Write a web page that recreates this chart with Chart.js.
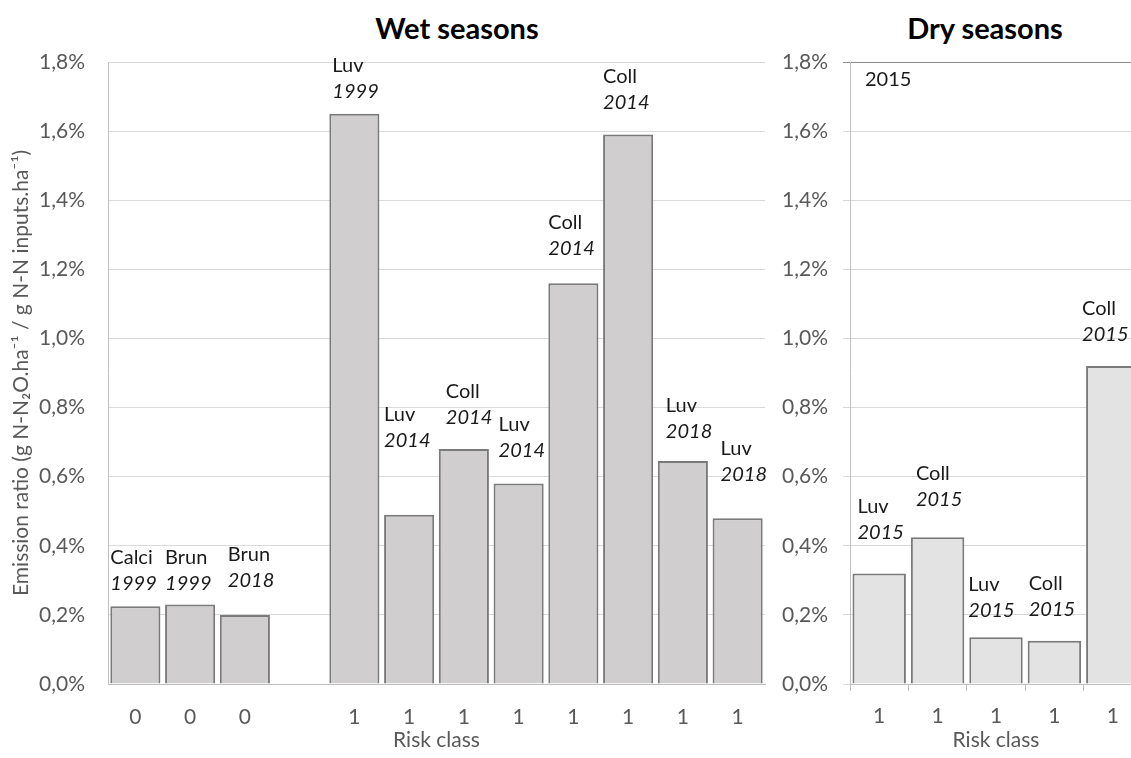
<!DOCTYPE html>
<html>
<head>
<meta charset="utf-8">
<title>Emission ratio by risk class</title>
<script src="https://cdn.jsdelivr.net/npm/chart.js@4/dist/chart.umd.min.js"></script>
<style>
  body { margin: 0; background: #fff; overflow: hidden; width: 1131px; height: 758px; position: relative; }
  canvas { position: absolute; top: 0; }
  #wet { left: 0; }
  #dry { left: 770px; }
  .panel-title { position: absolute; font: bold 29px Lato, sans-serif; color: #000; line-height: 32px; white-space: nowrap; transform: translateX(-50%); top: 12px; }
</style>
</head>
<body>
<div class="panel-title" style="left:457px">Wet seasons</div>
<div class="panel-title" style="left:985px">Dry seasons</div>
<canvas id="wet" width="772" height="758"></canvas>
<canvas id="dry" width="380" height="758"></canvas>
<script>
// wet seasons (percent)
const wetClasses = ["0", "0", "0", "", "1", "1", "1", "1", "1", "1", "1", "1"];
const wetRatio = [0.225, 0.23, 0.20, null, 1.65, 0.49, 0.68, 0.58, 1.16, 1.59, 0.645, 0.48];
const wetSoils = ["Calci", "Brun", "Brun", "", "Luv", "Luv", "Coll", "Luv", "Coll", "Coll", "Luv", "Luv"];
const wetYears = ["1999", "1999", "2018", "", "1999", "2014", "2014", "2014", "2014", "2014", "2018", "2018"];

// dry seasons (percent)
const dryClasses = ["1", "1", "1", "1", "1"];
const dryRatio = [0.32, 0.425, 0.135, 0.125, 0.92];
const drySoils = ["Luv", "Coll", "Luv", "Coll", "Coll"];
const dryYears = ["2015", "2015", "2015", "2015", "2015"];

// where each note sits: [x shift from bar's left edge, gap from bar top to year line]
const wetNoteShift = [[0, 23], [0, 21], [8, 34], [0, 0], [3, 22], [0, 74], [7, 31], [5, 33], [0, 35], [0, 32], [8, 30], [8, 44]];
const dryNoteShift = [[5, 41], [5, 38], [-1, 27], [1, 31], [-4, 32]];

Chart.defaults.font.family = "Lato, sans-serif";
Chart.defaults.font.size = 21;
Chart.defaults.color = "#595959";

const pct = v => v.toFixed(1).replace(".", ",") + "%";

// soil type + year written above every bar
const barNotes = {
    id: "barNotes",
    afterDatasetsDraw(chart, args, opts) {
        const ctx = chart.ctx;
        const meta = chart.getDatasetMeta(0);
        ctx.save();
        ctx.fillStyle = "#1a1a1a";
        ctx.textAlign = "left";
        ctx.textBaseline = "middle";
        meta.data.forEach((bar, i) => {
            if (!opts.soils[i]) return;
            const x = bar.x - bar.width / 2 + opts.shift[i][0];
            const y = bar.y - opts.shift[i][1];
            ctx.font = "20px Lato, sans-serif";
            ctx.fillText(opts.soils[i], x, y - 26);
            ctx.font = "italic 20px Lato, sans-serif";
            ctx.fillText(opts.years[i], x, y);
        });
        if (opts.corner) {
            ctx.font = "20px Lato, sans-serif";
            ctx.fillText(opts.corner, chart.chartArea.left + 15, chart.chartArea.top + 18);
        }
        ctx.restore();
    }
};

function makeChart(id, labels, values, fill, notes, dry) {
    return new Chart(document.getElementById(id), {
        type: "bar",
        data: {
            labels: labels,
            datasets: [{
                data: values,
                backgroundColor: fill,
                borderColor: "#7a7a7a",
                borderWidth: 2,
                categoryPercentage: 1,
                barPercentage: 0.915
            }]
        },
        plugins: [barNotes],
        options: {
            responsive: false,
            animation: false,
            layout: { padding: { top: 62, right: dry ? 8 : 7, bottom: 0, left: 0 } },
            plugins: {
                legend: { display: false },
                tooltip: { enabled: false },
                barNotes: notes
            },
            scales: {
                x: {
                    afterFit: s => { s.height = 74; },
                    grid: {
                        display: dry,
                        drawOnChartArea: false,
                        drawTicks: dry,
                        tickLength: 7,
                        color: "#bfbfbf"
                    },
                    border: { display: true, color: "#bfbfbf", width: 1 },
                    ticks: { padding: dry ? 13 : 21, maxRotation: 0, autoSkip: false },
                    title: {
                        display: true,
                        text: "Risk class",
                        color: "#595959",
                        font: { size: 21 },
                        padding: { top: 0, bottom: 5 }
                    }
                },
                y: {
                    min: 0,
                    max: 1.8,
                    afterFit: s => { s.width = dry ? 80 : 108; },
                    ticks: { stepSize: 0.2, callback: v => pct(v), padding: dry ? 15 : 23 },
                    grid: {
                        drawTicks: dry,
                        tickLength: 7,
                        color: c => dry && c.tick && Math.abs(c.tick.value - 1.8) < 1e-6 ? "#8c8c8c" : "#d9d9d9"
                    },
                    border: { display: true, color: "#bfbfbf", width: 1 },
                    title: {
                        display: !dry,
                        text: "Emission ratio (g N-N\u2082O.ha\u207B\u00B9 / g N-N inputs.ha\u207B\u00B9)",
                        color: "#595959",
                        font: { size: 21 },
                        padding: { top: 9, bottom: 0 }
                    }
                }
            }
        }
    });
}

makeChart("wet", wetClasses, wetRatio, "#d0cecf",
    { soils: wetSoils, years: wetYears, shift: wetNoteShift }, false);
makeChart("dry", dryClasses, dryRatio, "#e4e3e4",
    { soils: drySoils, years: dryYears, shift: dryNoteShift, corner: "2015" }, true);
</script>
</body>
</html>
